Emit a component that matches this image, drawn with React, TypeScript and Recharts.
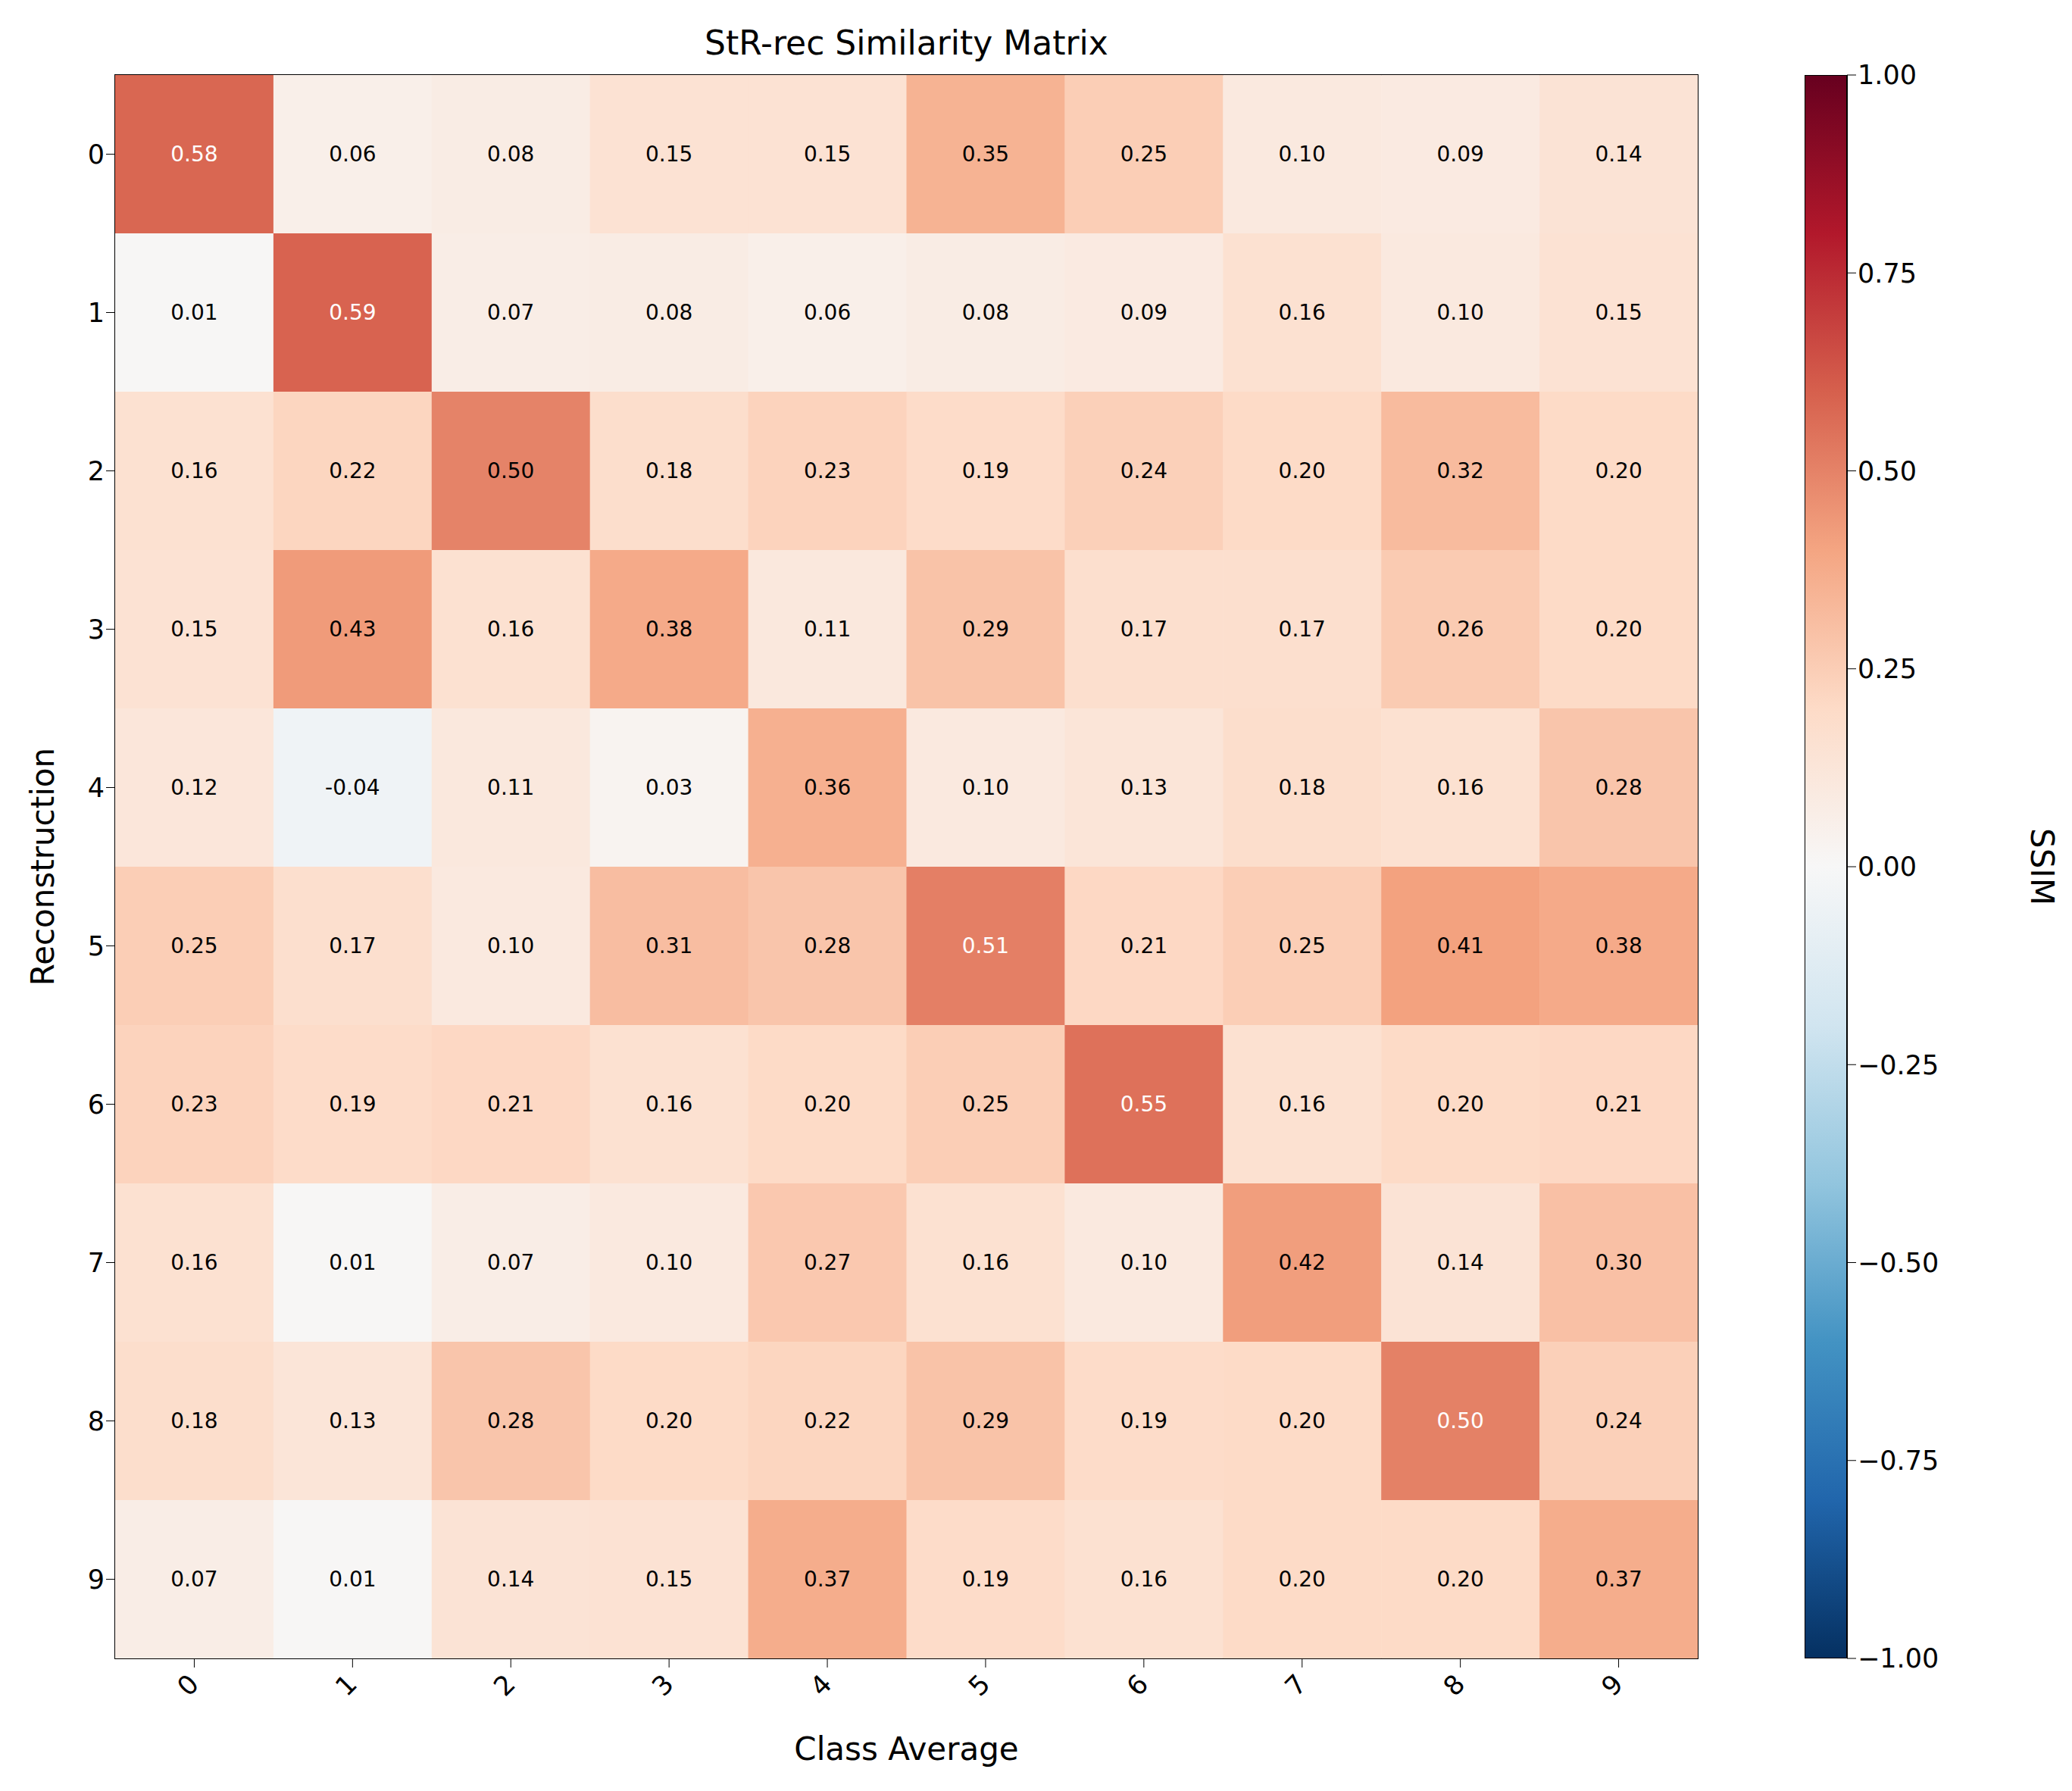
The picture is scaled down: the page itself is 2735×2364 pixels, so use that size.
import { ScatterChart, Scatter, XAxis, YAxis, BarChart, Bar } from 'recharts';

const classes = [0, 1, 2, 3, 4, 5, 6, 7, 8, 9];
const matrix = [
  [0.58, 0.06, 0.08, 0.15, 0.15, 0.35, 0.25, 0.10, 0.09, 0.14],
  [0.01, 0.59, 0.07, 0.08, 0.06, 0.08, 0.09, 0.16, 0.10, 0.15],
  [0.16, 0.22, 0.498, 0.18, 0.23, 0.19, 0.24, 0.20, 0.32, 0.20],
  [0.15, 0.43, 0.16, 0.38, 0.11, 0.29, 0.17, 0.17, 0.26, 0.20],
  [0.12, -0.04, 0.11, 0.03, 0.36, 0.10, 0.13, 0.18, 0.16, 0.28],
  [0.25, 0.17, 0.10, 0.31, 0.28, 0.51, 0.21, 0.25, 0.41, 0.38],
  [0.23, 0.19, 0.21, 0.16, 0.20, 0.25, 0.55, 0.16, 0.20, 0.21],
  [0.16, 0.01, 0.07, 0.10, 0.27, 0.16, 0.10, 0.42, 0.14, 0.30],
  [0.18, 0.13, 0.28, 0.20, 0.22, 0.29, 0.19, 0.20, 0.504, 0.24],
  [0.07, 0.01, 0.14, 0.15, 0.37, 0.19, 0.16, 0.20, 0.20, 0.37],
];
const cbTicks = [-1, -0.75, -0.5, -0.25, 0, 0.25, 0.5, 0.75, 1];
const cbData = [{ k: 'cb', r: [-1, 1] }];

// RdBu_r, from -1 to 1
const stops = ['#053061', '#2166ac', '#4393c3', '#92c5de', '#d1e5f0', '#f7f7f7', '#fddbc7', '#f4a582', '#d6604d', '#b2182b', '#67001f'];

function hex(h: string) {
  return [1, 3, 5].map((i) => parseInt(h.slice(i, i + 2), 16));
}
function colorFor(v: number) {
  const t = Math.max(0, Math.min(1, (v + 1) / 2)) * (stops.length - 1);
  const i = Math.min(stops.length - 2, Math.floor(t));
  const f = t - i;
  const a = hex(stops[i]);
  const b = hex(stops[i + 1]);
  const c = a.map((x, k) => Math.round(x + (b[k] - x) * f));
  return `rgb(${c[0]},${c[1]},${c[2]})`;
}

const cells = matrix.flatMap((row, r) => row.map((v, c) => ({ x: c, y: r, v })));

const W = 2735;
const H = 2364;
const L = 152, R = 2241, T = 99, B = 2189;
const cw = (R - L) / 10;
const ch = (B - T) / 10;
const font = 'DejaVu Sans, sans-serif';

const Cell = (p: any) => {
  const { cx, cy, payload } = p;
  return (
    <g>
      <rect x={cx - cw / 2} y={cy - ch / 2} width={cw + 0.5} height={ch + 0.5} fill={colorFor(payload.v)} />
      <text x={cx} y={cy} textAnchor="middle" dominantBaseline="central" fontSize={28} fontFamily={font}
        fill={payload.v > 0.5 ? '#ffffff' : '#000000'}>{payload.v.toFixed(2)}</text>
    </g>
  );
};

const XTick = (p: any) => {
  const { x, y, payload } = p;
  return (
    <text x={x + 8} y={y + 22} textAnchor="end" fontSize={35} fontFamily={font} fill="#000"
      transform={`rotate(-45, ${x + 8}, ${y + 22})`}>{payload.value}</text>
  );
};

const fmt = (v: number) => (v < 0 ? '\u2212' + Math.abs(v).toFixed(2) : v.toFixed(2));

export default function App() {
  return (
    <div style={{ position: 'absolute', left: 0, top: 0, width: W, height: H, background: '#fff', fontFamily: font }}>
      <ScatterChart width={W} height={H} margin={{ left: L - 80, right: W - R, top: T, bottom: H - B - 80 }}>
        <XAxis type="number" dataKey="x" domain={[-0.5, 9.5]} ticks={classes} height={80} interval={0}
          tick={<XTick />} tickSize={12} stroke="#000" allowDataOverflow />
        <YAxis type="number" dataKey="y" domain={[-0.5, 9.5]} ticks={classes} width={80} reversed interval={0}
          tickSize={12} stroke="#000" tick={{ fontSize: 35, fill: '#000', fontFamily: font }} allowDataOverflow />
        <Scatter data={cells} shape={<Cell />} isAnimationActive={false} />
        <rect x={L} y={T} width={R - L} height={B - T} fill="none" stroke="#000" strokeWidth={2} />
        <text x={(L + R) / 2} y={56} textAnchor="middle" dominantBaseline="central" fontSize={44} fill="#000">StR-rec Similarity Matrix</text>
        <text x={(L + R) / 2} y={2308} textAnchor="middle" dominantBaseline="central" fontSize={42} fill="#000">Class Average</text>
        <text x={56} y={(T + B) / 2} textAnchor="middle" dominantBaseline="central" fontSize={42} fill="#000"
          transform={`rotate(-90, 56, ${(T + B) / 2})`}>Reconstruction</text>
      </ScatterChart>
      <div style={{ position: 'absolute', left: 2382, top: 0 }}>
        <BarChart width={353} height={H} data={cbData} barCategoryGap={0}
          margin={{ left: 0, right: 353 - 56 - 150, top: T, bottom: H - B }}>
          <defs>
            <linearGradient id="cbar" x1="0" y1="0" x2="0" y2="1">
              {stops.slice().reverse().map((s, i) => (
                <stop key={i} offset={`${(i / (stops.length - 1)) * 100}%`} stopColor={s} />
              ))}
            </linearGradient>
          </defs>
          <XAxis dataKey="k" hide />
          <YAxis type="number" orientation="right" domain={[-1, 1]} ticks={cbTicks} width={150} tickSize={12}
            tickFormatter={fmt} stroke="#000" tick={{ fontSize: 35, fill: '#000', fontFamily: font }} allowDataOverflow />
          <Bar dataKey="r" fill="url(#cbar)" stroke="#000" strokeWidth={2} isAnimationActive={false} />
          <text x={313} y={(T + B) / 2} textAnchor="middle" dominantBaseline="central" fontSize={42} fill="#000"
            transform={`rotate(90, 313, ${(T + B) / 2})`}>SSIM</text>
        </BarChart>
      </div>
    </div>
  );
}
